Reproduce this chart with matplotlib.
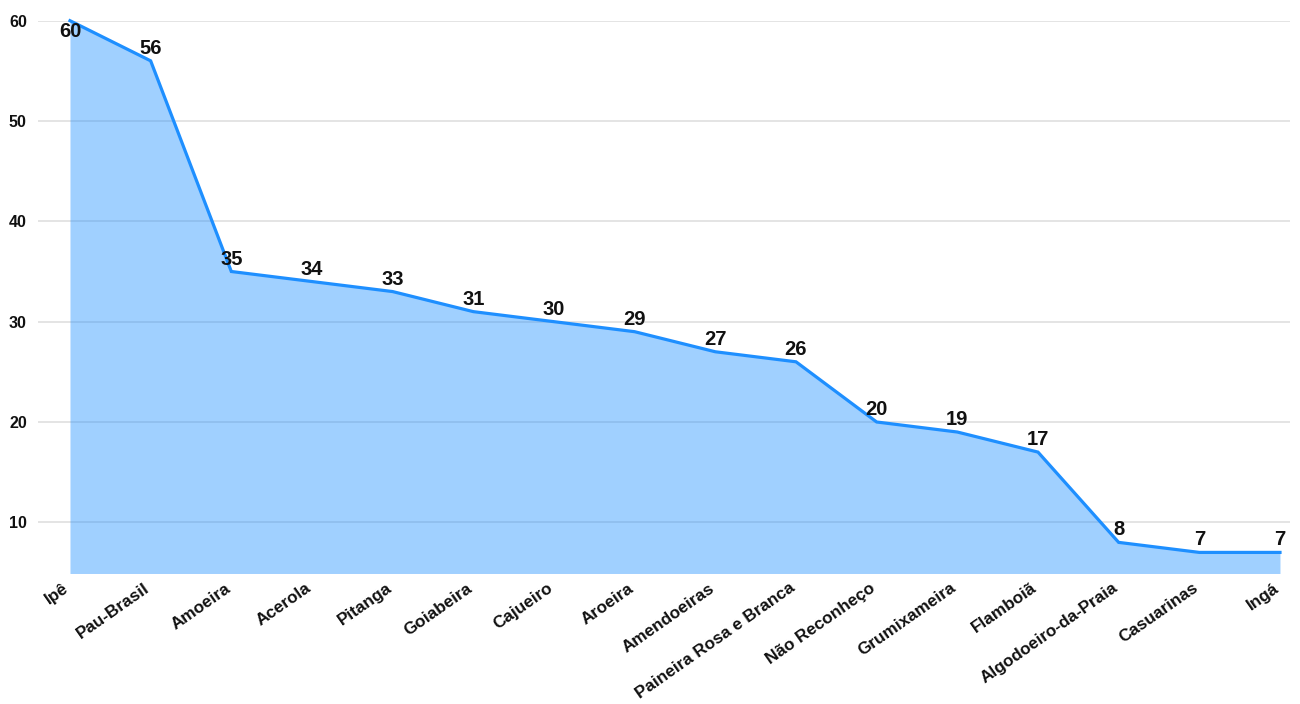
import matplotlib
matplotlib.use("Agg")
import matplotlib.pyplot as plt
import matplotlib.transforms as mtransforms

plt.rcParams['font.family'] = ['Liberation Sans', 'DejaVu Sans']

species = ["Ipê", "Pau-Brasil", "Amoeira", "Acerola", "Pitanga", "Goiabeira",
           "Cajueiro", "Aroeira", "Amendoeiras", "Paineira Rosa e Branca",
           "Não Reconheço", "Grumixameira", "Flamboiã", "Algodoeiro-da-Praia",
           "Casuarinas", "Ingá"]
counts = [60, 56, 35, 34, 33, 31, 30, 29, 27, 26, 20, 19, 17, 8, 7, 7]
y_ticks = [10, 20, 30, 40, 50, 60]

line_color = "#1e8fff"
text_color = "#111111"
y_floor = 4.9

fig = plt.figure(figsize=(13, 7.04), dpi=100)
ax = fig.add_axes([0.0292, 0.1854, 0.9631, 0.7852])

x = list(range(len(species)))
ax.fill_between(x, counts, y_floor, color=line_color, alpha=0.42, linewidth=0,
                zorder=2)
ax.plot(x, counts, color=line_color, linewidth=2.3, zorder=3, clip_on=False,
        solid_joinstyle="miter")

ax.set_xlim(-0.397, len(species) - 1 + 0.124)
ax.set_ylim(y_floor, 60)

ax.set_yticks(y_ticks)
ax.set_yticklabels([str(v) for v in y_ticks], fontsize=11.5, fontweight="bold",
                   color=text_color)
ax.grid(axis="y", color="#e4e4e4", linewidth=1.4, zorder=1)
ax.set_axisbelow(True)
ax.tick_params(axis="y", length=0, pad=8)
ax.tick_params(axis="x", length=0, pad=5)

ax.set_xticks(x)
ax.set_xticklabels(species, rotation=35, ha="right", va="top",
                   rotation_mode="anchor", fontsize=12.3, fontweight="bold",
                   color=text_color)
shift = mtransforms.ScaledTranslation(-7 / 100, 0, fig.dpi_scale_trans)
for lbl in ax.get_xticklabels():
    lbl.set_transform(lbl.get_transform() + shift)

for spine in ax.spines.values():
    spine.set_visible(False)

top = max(counts)
for xi, v in zip(x, counts):
    if v == top:
        ax.annotate(str(v), (xi, v), xytext=(0, -1), textcoords="offset points",
                    ha="center", va="top", fontsize=14.5, fontweight="bold",
                    color=text_color, zorder=4, annotation_clip=False)
    else:
        ax.annotate(str(v), (xi, v), xytext=(0, 5), textcoords="offset points",
                    ha="center", va="baseline", fontsize=14.5, fontweight="bold",
                    color=text_color, zorder=4, annotation_clip=False)

fig.savefig("out.png", dpi=100, facecolor="white")
